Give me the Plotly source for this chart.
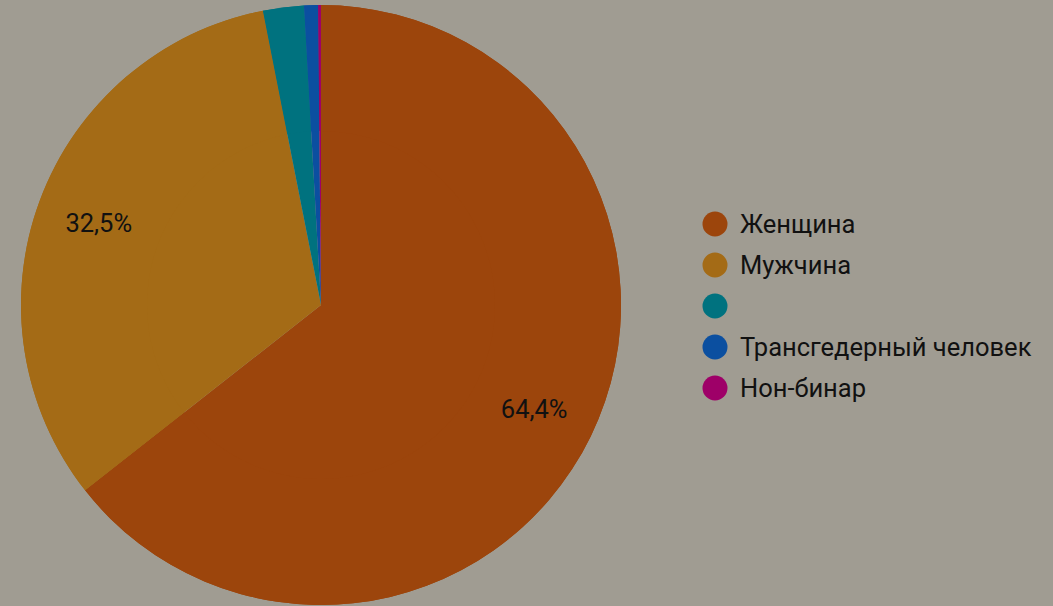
import plotly.graph_objects as go

# data
labels = ["Женщина", "Мужчина", "", "Трансгедерный человек", "Нон-бинар"]
values = [64.4, 32.5, 2.2, 0.75, 0.15]
colors = ["#9C450C", "#A46B16", "#00727F", "#0B4FA0", "#9E0068"]
shown_pct = ["64,4%", "32,5%", "", "", ""]

BG = "#A09C92"
FONT = "Roboto"
FS = 25.5
dom = dict(x=[21 / 1053, 621 / 1053], y=[1 / 606, 601 / 606])

fig = go.Figure()
# full pie underneath
fig.add_trace(go.Pie(
    labels=[l if l else " " for l in labels], values=values,
    textinfo="none", marker=dict(colors=colors, line=dict(width=0)),
    sort=False, direction="clockwise", rotation=0, showlegend=False,
    hoverinfo="skip", domain=dom,
))
# ring on top carries the labels (pushes text outward)
fig.add_trace(go.Pie(
    labels=[l if l else " " for l in labels], values=values,
    text=shown_pct, texttemplate="%{text}",
    textposition="inside", insidetextorientation="horizontal",
    insidetextfont=dict(family=FONT, size=FS, color="#111111"),
    marker=dict(colors=colors, line=dict(width=0)),
    hole=0.58, sort=False, direction="clockwise", rotation=0,
    showlegend=False, hoverinfo="label+percent", domain=dom,
))

# legend drawn with circles + labels
shapes = []
annotations = []
y0 = 224
for i, (lab, col) in enumerate(zip(labels, colors)):
    yc = y0 + 41 * i
    shapes.append(dict(type="circle", xref="paper", yref="paper",
                       x0=(715 - 12.5) / 1053, x1=(715 + 12.5) / 1053,
                       y0=1 - (yc + 12.5) / 606, y1=1 - (yc - 12.5) / 606,
                       fillcolor=col, line=dict(width=0)))
    annotations.append(dict(text=lab, xref="paper", yref="paper",
                            x=738 / 1053, y=1 - yc / 606,
                            xanchor="left", yanchor="middle", showarrow=False,
                            font=dict(family=FONT, size=FS, color="#111111")))

fig.update_layout(
    width=1053, height=606,
    margin=dict(l=0, r=0, t=0, b=0),
    paper_bgcolor=BG, plot_bgcolor=BG,
    separators=", ",
    shapes=shapes,
    annotations=annotations,
    font=dict(family=FONT),
)

fig.write_html("out.html", config={"displayModeBar": False},
               post_script="document.body.style.margin='0';")
